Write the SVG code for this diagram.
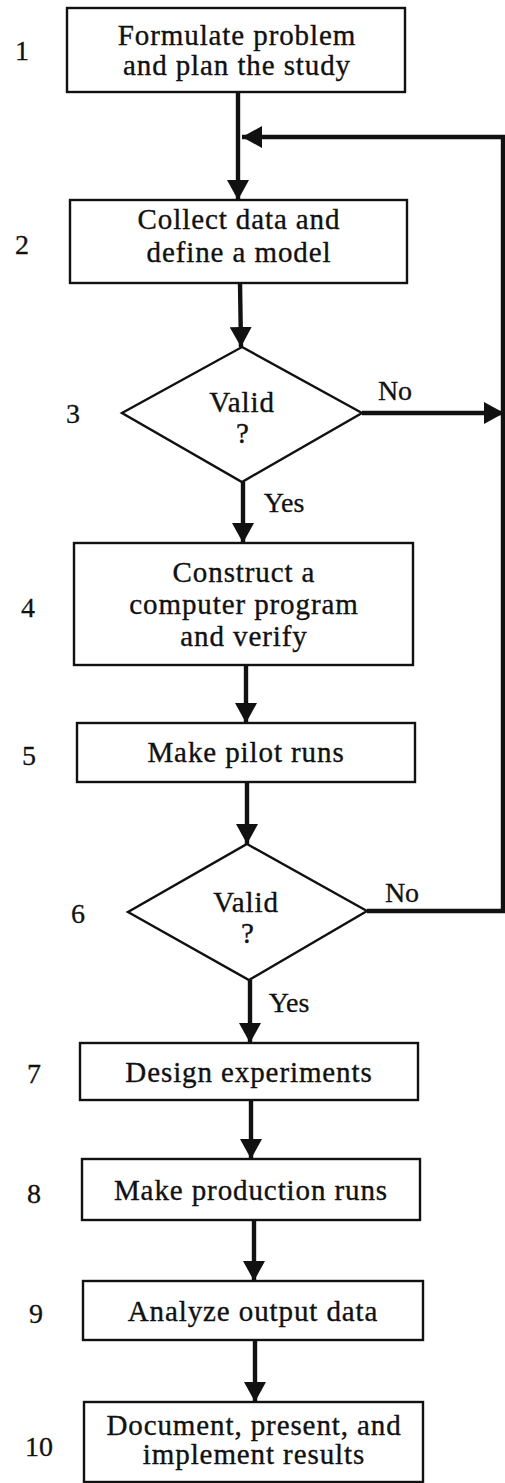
<svg xmlns="http://www.w3.org/2000/svg" width="505" height="1483" viewBox="0 0 505 1483">
<style>
.box{fill:#fff;stroke:#111;stroke-width:2.4}
.t{font-family:"Liberation Serif","Times New Roman",serif;font-size:29px;fill:#111;stroke:#111;stroke-width:0.35;text-anchor:middle;letter-spacing:0.9px}
.lb{font-family:"Liberation Serif","Times New Roman",serif;font-size:28px;fill:#111;stroke:#111;stroke-width:0.3;text-anchor:middle}
.c{fill:none;stroke:#111;stroke-width:4.4}
</style>
<defs>
<marker id="ah" markerUnits="userSpaceOnUse" markerWidth="20" markerHeight="22" refX="20" refY="11" orient="auto" viewBox="0 0 20 22">
<path d="M0,0 L20,11 L0,22 Z" fill="#111"/>
</marker>
</defs>
<rect width="505" height="1483" fill="#fff"/>
<g id="connectors">
<line class="c" x1="238" y1="92" x2="238" y2="200" marker-end="url(#ah)"/>
<polyline class="c" points="367,911 503,911 503,137 242,137" marker-end="url(#ah)"/>
<polyline class="c" points="362,413 504,413" marker-end="url(#ah)"/>
<line class="c" x1="240" y1="283" x2="241" y2="347" marker-end="url(#ah)"/>
<line class="c" x1="243" y1="482" x2="243" y2="543" marker-end="url(#ah)"/>
<line class="c" x1="246" y1="665" x2="246" y2="723" marker-end="url(#ah)"/>
<line class="c" x1="247" y1="782" x2="247" y2="844" marker-end="url(#ah)"/>
<line class="c" x1="250" y1="980" x2="250" y2="1043" marker-end="url(#ah)"/>
<line class="c" x1="251" y1="1100" x2="251" y2="1159" marker-end="url(#ah)"/>
<line class="c" x1="254" y1="1220" x2="254" y2="1281" marker-end="url(#ah)"/>
<line class="c" x1="255" y1="1340" x2="255" y2="1402" marker-end="url(#ah)"/>
<text class="lb" x="395" y="400">No</text>
<text class="lb" x="402" y="902">No</text>
<text class="lb" x="284" y="512">Yes</text>
<text class="lb" x="289" y="1012">Yes</text>
</g>
<g id="n1">
<rect class="box" x="67" y="8" width="338" height="84"/>
<text class="t" x="237" y="45">Formulate problem</text>
<text class="t" x="237" y="75">and plan the study</text>
<text class="lb" x="22" y="60">1</text>
</g>
<g id="n2">
<rect class="box" x="70" y="200" width="337" height="83"/>
<text class="t" x="239" y="229">Collect data and</text>
<text class="t" x="239" y="262">define a model</text>
<text class="lb" x="22" y="254">2</text>
</g>
<g id="n3">
<polygon class="box" points="242,347 362,413 242,482 122,413"/>
<text class="t" x="242" y="412">Valid</text>
<text class="t" x="243" y="443">?</text>
<text class="lb" x="73" y="423">3</text>
</g>
<g id="n4">
<rect class="box" x="74" y="543" width="339" height="122"/>
<text class="t" x="244" y="582">Construct a</text>
<text class="t" x="244" y="614">computer program</text>
<text class="t" x="244" y="646">and verify</text>
<text class="lb" x="28" y="617">4</text>
</g>
<g id="n5">
<rect class="box" x="77" y="723" width="338" height="59"/>
<text class="t" x="246" y="762">Make pilot runs</text>
<text class="lb" x="29" y="765">5</text>
</g>
<g id="n6">
<polygon class="box" points="247,844 367,911 249,980 128,912"/>
<text class="t" x="246" y="912">Valid</text>
<text class="t" x="248" y="943">?</text>
<text class="lb" x="78" y="923">6</text>
</g>
<g id="n7">
<rect class="box" x="80" y="1043" width="338" height="57"/>
<text class="t" x="249" y="1082">Design experiments</text>
<text class="lb" x="34" y="1083">7</text>
</g>
<g id="n8">
<rect class="box" x="82" y="1159" width="338" height="61"/>
<text class="t" x="251" y="1200">Make production runs</text>
<text class="lb" x="34" y="1203">8</text>
</g>
<g id="n9">
<rect class="box" x="83" y="1281" width="340" height="59"/>
<text class="t" x="253" y="1321">Analyze output data</text>
<text class="lb" x="36" y="1323">9</text>
</g>
<g id="n10">
<rect class="box" x="84" y="1402" width="339" height="80"/>
<text class="t" x="254" y="1435">Document, present, and</text>
<text class="t" x="254" y="1464">implement results</text>
<text class="lb" x="39" y="1456">10</text>
</g>
</svg>
